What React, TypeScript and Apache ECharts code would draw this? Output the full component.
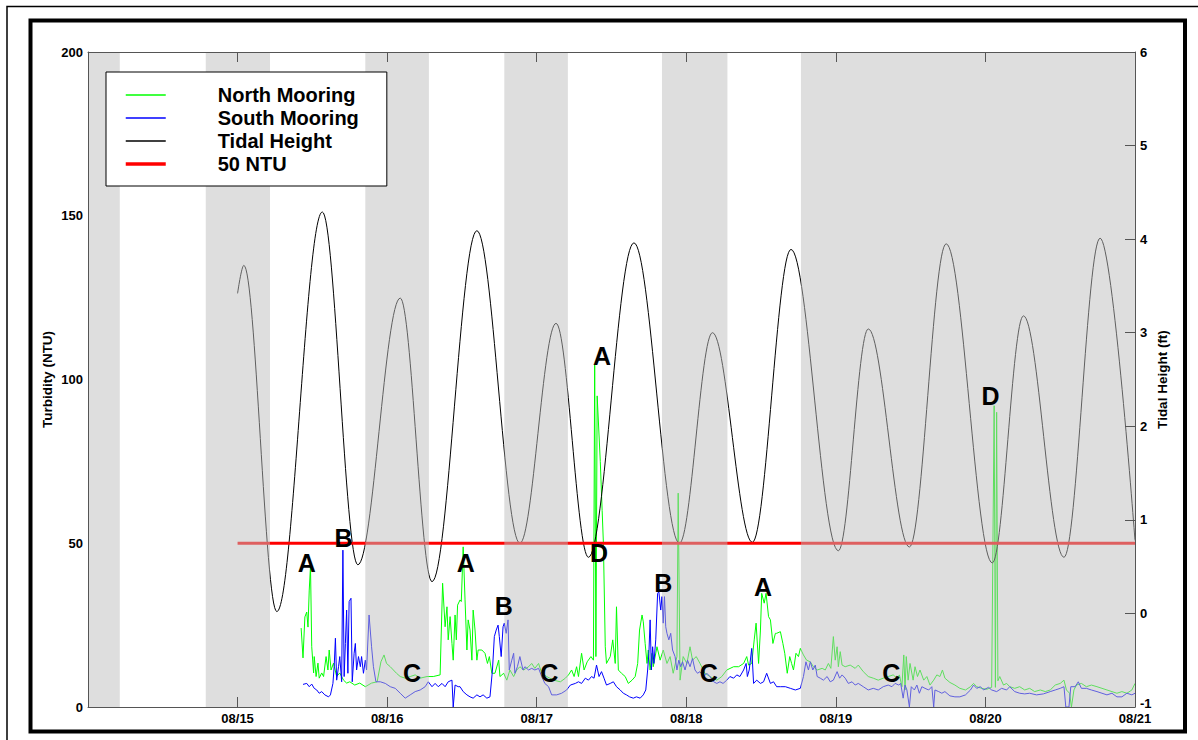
import React, { useEffect, useRef } from 'react';
import * as echarts from 'echarts';

// x values are hours after 08/14 00:00
const dayLabels = ['08/14', '08/15', '08/16', '08/17', '08/18', '08/19', '08/20', '08/21'];

// night shading [start hour, end hour]
const nightBands: [number, number][] = [
  [0, 5.1], [18.9, 29.2], [44.5, 54.7], [66.8, 77.0], [92.1, 102.6], [114.4, 168],
];

// tidal height extremes (ft)
const tideData: [number, number][] = [
  [24.0, 3.42], [25.0, 3.72], [30.3, 0.02], [37.6, 4.29], [43.3, 0.52], [50.1, 3.37],
  [55.2, 0.34], [62.4, 4.09], [69.3, 0.75], [75.1, 3.10], [80.3, 0.60], [87.6, 3.96],
  [94.9, 0.75], [100.2, 3.00], [106.6, 0.76], [112.8, 3.89], [120.4, 0.67], [125.2, 3.04],
  [131.8, 0.71], [137.7, 3.95], [145.1, 0.54], [150.1, 3.18], [156.6, 0.60], [162.4, 4.01],
  [168.0, 0.78],
];

// North mooring turbidity (NTU)
const northData: [number, number][] = [
  [34.2, 24.1], [34.5, 15.0], [34.8, 27.5], [35.1, 29.0], [35.3, 24.4], [35.5, 35.7], [35.7, 43.0], [35.9, 18.4],
  [36.2, 10.4], [36.3, 15.4], [36.6, 9.3], [36.9, 13.4], [37.1, 8.8], [37.5, 10.4], [37.8, 9.3], [38.2, 15.4],
  [38.5, 11.3], [38.7, 17.4], [39.0, 11.3], [39.4, 13.4], [39.9, 9.3], [40.4, 10.4], [41.0, 8.2], [41.5, 7.3],
  [42.0, 7.7], [42.8, 6.7], [43.6, 7.3], [44.5, 6.2], [45.5, 7.3], [46.4, 7.7], [47.0, 13.8], [47.5, 15.9],
  [47.9, 13.3], [48.5, 12.3], [49.0, 11.3], [49.5, 10.3], [50.1, 9.3], [50.9, 8.8], [51.7, 9.3], [52.5, 9.8],
  [53.3, 8.8], [54.4, 9.3], [55.4, 9.3], [56.5, 9.8], [56.9, 37.8], [57.3, 24.5], [57.6, 30.6], [57.8, 20.5],
  [58.1, 27.6], [58.4, 19.4], [58.6, 14.3], [58.9, 28.1], [59.1, 20.5], [59.3, 31.1], [59.7, 32.7], [59.9, 32.2],
  [60.2, 48.9], [60.5, 32.7], [60.8, 17.4], [61.0, 26.6], [61.3, 23.5], [61.6, 14.3], [61.8, 29.6], [62.1, 23.5],
  [62.4, 14.3], [62.6, 17.4], [63.2, 17.4], [63.7, 16.4], [64.1, 13.3], [64.4, 15.4], [64.8, 10.3], [65.3, 10.3],
  [65.9, 14.3], [66.1, 9.3], [66.7, 10.3], [67.2, 8.2], [67.7, 11.3], [68.3, 9.3], [68.8, 11.3], [69.3, 12.3],
  [69.9, 11.3], [70.7, 12.3], [71.2, 13.3], [71.7, 11.8], [72.3, 13.3], [72.8, 10.3], [73.6, 9.3], [74.7, 8.2],
  [75.8, 7.7], [76.6, 8.8], [77.1, 9.8], [77.6, 11.3], [78.0, 9.3], [78.4, 12.3], [78.7, 9.3], [79.2, 16.4],
  [79.6, 11.3], [80.1, 13.8], [80.7, 15.4], [81.1, 14.3], [81.3, 104.4], [81.5, 15.4], [81.7, 95], [82.2, 75],
  [82.5, 60], [82.7, 50], [83.0, 18.4], [83.2, 13.3], [83.8, 15.4], [84.2, 20.5], [84.6, 13.3], [84.8, 30.6],
  [85.1, 11.3], [85.6, 10.3], [86.2, 9.3], [86.7, 7.2], [87.3, 8.2], [87.8, 9.3], [88.2, 13.3], [88.5, 23.5],
  [88.9, 28.1], [89.1, 26.0], [89.4, 19.4], [89.7, 13.3], [89.9, 17.4], [90.2, 11.3], [90.5, 16.4], [90.7, 12.3],
  [91.3, 18.4], [91.8, 14.3], [92.3, 17.4], [92.9, 13.3], [93.4, 15.4], [93.9, 10.3], [94.5, 15.4], [94.7, 65.3],
  [95.0, 8.2], [95.5, 15.4], [96.1, 13.3], [96.6, 18.4], [97.0, 14.3], [97.6, 15.4], [98.2, 13.3], [99.0, 10.3],
  [99.8, 9.3], [100.9, 8.2], [101.7, 9.3], [102.5, 11.3], [103.6, 12.3], [104.4, 12.3], [105.2, 13.3], [105.7, 15.4],
  [106.0, 12.8], [106.5, 13.3], [106.9, 20.5], [107.2, 25.6], [107.6, 13.3], [107.9, 23.5], [108.1, 34.7], [108.5, 31.7],
  [108.8, 34.7], [109.2, 27.6], [109.5, 26.6], [109.9, 19.4], [110.3, 22.5], [110.5, 22.5], [111.1, 23.0], [111.5, 19.4],
  [111.8, 16.4], [112.2, 10.3], [112.6, 15.4], [112.9, 13.3], [113.2, 11.3], [113.6, 16.4], [114.0, 15.4], [114.3, 17.9],
  [114.8, 15.9], [115.3, 14.3], [115.9, 13.8], [116.4, 12.3], [117.0, 11.3], [117.8, 11.8], [118.3, 11.3], [118.8, 13.3],
  [119.2, 11.8], [119.6, 21.5], [119.9, 14.3], [120.2, 18.4], [120.4, 12.3], [120.7, 16.9], [121.0, 12.8], [121.5, 12.3],
  [122.3, 12.8], [123.1, 11.8], [123.6, 12.8], [124.4, 10.8], [125.2, 9.3], [126.0, 8.8], [126.8, 8.2], [127.6, 8.8],
  [128.4, 9.3], [129.2, 9.8], [129.8, 8.8], [130.2, 9.8], [130.6, 6.2], [130.9, 15.9], [131.1, 5.2], [131.3, 15.4],
  [131.6, 8.2], [131.9, 13.3], [132.4, 8.2], [132.7, 12.3], [133.1, 9.3], [133.5, 11.3], [134.1, 8.2], [134.6, 9.3],
  [135.1, 6.7], [135.7, 8.2], [136.2, 9.8], [136.7, 9.3], [137.1, 11.3], [137.5, 8.8], [138.3, 7.5], [139.1, 6.7],
  [139.9, 5.7], [140.8, 5.2], [141.6, 6.2], [142.1, 7.2], [142.6, 6.2], [143.4, 5.7], [144.2, 5.4], [145.0, 6.0],
  [145.4, 92], [145.6, 6], [145.8, 90], [146.0, 8], [146.3, 9.3], [146.9, 6.7], [147.4, 7.2], [147.9, 6.2],
  [148.7, 5.7], [149.5, 6.2], [150.3, 5.2], [151.1, 5.7], [151.9, 4.7], [152.8, 5.2], [153.6, 4.7], [154.4, 5.2],
  [155.2, 6.7], [156.0, 7.2], [156.6, 8.2], [157.0, 5.2], [157.5, 4.2], [157.8, 0], [158.2, 5.2], [158.6, 6.7],
  [159.4, 7.2], [160.2, 6.2], [161.0, 6.7], [161.9, 6.2], [162.7, 5.7], [163.5, 5.2], [164.3, 4.7], [165.1, 4.2],
  [165.9, 4.7], [166.7, 4.2], [167.5, 5.2], [168.0, 7.2],
];

// South mooring turbidity (NTU)
const southData: [number, number][] = [
  [34.5, 6.9], [35.1, 7.2], [35.5, 6.2], [35.9, 7.0], [36.3, 5.7], [36.7, 5.2], [37.1, 4.2], [37.5, 4.7],
  [38.0, 3.7], [38.6, 3.1], [38.9, 3.7], [39.3, 7.2], [39.5, 12.3], [39.7, 21.0], [39.9, 8.2], [40.2, 12.3],
  [40.4, 15.4], [40.7, 7.7], [40.9, 47.9], [41.1, 9.3], [41.3, 19.4], [41.5, 29.6], [41.7, 10.3], [41.9, 32.2],
  [42.2, 33.2], [42.4, 7.7], [42.7, 16.4], [42.9, 19.4], [43.1, 11.3], [43.4, 15.4], [43.7, 12.3], [43.9, 15.4],
  [44.2, 10.3], [44.5, 14.3], [44.7, 11.3], [45.1, 28.1], [45.5, 18.4], [45.8, 12.3], [46.2, 7.7], [46.9, 7.7],
  [47.7, 7.2], [48.5, 6.2], [49.3, 5.7], [50.1, 4.2], [50.9, 2.7], [51.7, 3.7], [52.5, 4.7], [53.3, 5.2],
  [54.1, 6.2], [54.6, 7.7], [55.2, 6.2], [55.7, 7.2], [56.2, 6.2], [56.8, 7.2], [57.3, 6.2], [57.8, 7.7],
  [58.4, 8.2], [58.6, 0], [58.9, 6.7], [59.4, 6.2], [59.7, 6.2], [60.2, 4.7], [60.8, 3.7], [61.3, 3.1],
  [61.8, 2.7], [62.4, 3.7], [62.9, 3.1], [63.4, 3.7], [64.0, 2.7], [64.5, 3.1], [64.9, 11.3], [65.2, 21.5],
  [65.5, 23.5], [65.8, 25.0], [66.0, 21.5], [66.3, 15.4], [66.6, 24.5], [66.8, 25.6], [67.1, 22.5], [67.4, 26.6],
  [67.6, 11.3], [68.0, 14.3], [68.3, 16.4], [68.5, 10.3], [68.9, 12.3], [69.3, 15.4], [69.8, 11.3], [70.1, 12.3],
  [70.7, 11.3], [71.2, 11.8], [71.7, 11.3], [72.3, 11.8], [72.8, 9.3], [73.3, 7.2], [73.9, 6.2], [74.4, 3.7],
  [75.2, 3.7], [76.0, 4.2], [76.8, 5.2], [77.4, 6.7], [78.2, 7.2], [78.7, 7.7], [79.2, 7.2], [79.8, 8.8],
  [80.3, 8.2], [80.8, 9.3], [81.2, 8.8], [81.6, 12.8], [82.0, 9.3], [82.4, 10.8], [82.8, 8.8], [83.2, 6.7],
  [83.8, 7.2], [84.3, 7.7], [84.8, 6.2], [85.4, 5.2], [85.9, 4.2], [86.4, 3.7], [86.9, 3.1], [87.5, 2.7],
  [88.0, 3.1], [88.6, 2.7], [89.1, 3.7], [89.5, 5.2], [89.8, 11.3], [90.0, 16.4], [90.2, 26.6], [90.4, 11.3],
  [90.6, 18.4], [90.8, 13.3], [91.1, 20.5], [91.4, 34.7], [91.6, 35.2], [91.9, 29.6], [92.1, 33.7], [92.3, 25.6],
  [92.5, 33.7], [92.7, 24.5], [92.9, 22.5], [93.2, 20.5], [93.5, 22.5], [93.8, 17.4], [94.2, 15.4], [94.5, 11.3],
  [94.8, 14.3], [95.1, 12.3], [95.4, 13.8], [95.8, 11.3], [96.2, 14.3], [96.6, 12.3], [97.0, 14.8], [97.4, 11.3],
  [97.8, 10.3], [98.2, 10.8], [98.8, 9.3], [99.3, 10.3], [99.8, 9.3], [100.4, 7.7], [100.9, 7.2], [101.4, 7.7],
  [101.9, 7.2], [102.5, 8.2], [103.0, 9.3], [103.6, 8.8], [104.1, 9.8], [104.6, 9.3], [105.2, 11.3], [105.6, 13.3],
  [105.8, 9.3], [106.1, 11.3], [106.5, 17.9], [106.8, 7.2], [107.3, 8.2], [107.9, 7.2], [108.4, 7.7], [108.9, 10.3],
  [109.5, 7.2], [110.0, 7.7], [110.5, 6.2], [111.1, 6.2], [111.9, 6.2], [112.7, 5.7], [113.5, 5.2], [114.3, 5.7],
  [114.8, 9.3], [115.2, 13.8], [115.6, 11.3], [115.9, 13.8], [116.3, 11.3], [116.7, 12.8], [117.0, 9.3], [117.5, 8.8],
  [118.0, 8.2], [118.6, 9.3], [119.1, 7.7], [119.6, 8.2], [120.2, 10.8], [120.6, 8.8], [121.0, 9.8], [121.5, 8.8],
  [122.0, 7.2], [122.6, 7.7], [123.1, 6.7], [123.6, 7.2], [124.4, 6.2], [125.2, 5.2], [126.0, 5.7], [126.8, 5.2],
  [127.6, 6.2], [128.4, 6.7], [129.0, 6.2], [129.5, 7.2], [130.1, 6.7], [130.4, 7.2], [130.8, 2.7], [131.1, 6.7],
  [131.4, 5.2], [131.8, 0], [132.1, 6.2], [132.6, 5.2], [133.0, 6.7], [133.4, 4.2], [133.8, 6.2], [134.3, 5.7],
  [134.9, 5.2], [135.4, 6.2], [135.7, 0], [135.9, 5.2], [136.5, 4.7], [137.0, 4.2], [137.5, 4.7], [138.3, 3.4],
  [139.1, 3.1], [139.9, 3.1], [140.8, 3.7], [141.6, 5.2], [142.1, 6.7], [142.6, 5.7], [143.2, 6.2], [143.7, 5.2],
  [144.5, 6.0], [145.0, 5.2], [145.8, 4.7], [146.6, 5.7], [147.4, 5.2], [147.9, 6.2], [148.7, 4.7], [149.5, 4.2],
  [150.3, 4.0], [151.1, 4.2], [152.2, 3.7], [153.3, 4.0], [154.4, 4.7], [155.2, 5.2], [156.0, 5.7], [156.6, 6.2],
  [156.9, 0], [157.4, 0], [157.7, 6.2], [158.4, 6.2], [158.9, 7.7], [159.4, 5.7], [160.2, 5.7], [161.0, 5.2],
  [161.9, 4.7], [162.7, 4.2], [163.5, 3.7], [164.3, 4.2], [165.1, 3.1], [165.9, 3.1], [166.7, 4.2], [167.5, 3.7],
  [168.0, 4.2],
];

// 50 NTU threshold line
const thresholdData: [number, number][] = [[24, 50], [168, 50]];

// event annotations
const annotLetters = ['A', 'B', 'C', 'A', 'B', 'C', 'A', 'D', 'B', 'C', 'A', 'C', 'D'];
const annotHours = [35.1, 41.0, 52.0, 60.6, 66.7, 74.0, 82.5, 82.0, 92.3, 99.6, 108.3, 128.9, 144.8];
const annotNTU = [43.9, 51.7, 10.5, 43.9, 30.9, 10.5, 107.2, 46.9, 38.0, 10.5, 36.7, 10.5, 95.0];

const FONT = '"Liberation Sans", Arial, Helvetica, sans-serif';
const AXIS_COLOR = '#555';

export default function App() {
  const ref = useRef<HTMLDivElement>(null);

  useEffect(() => {
    if (!ref.current) return;
    const chart = echarts.init(ref.current, undefined, { renderer: 'svg' });

    const labelStyle = { fontFamily: FONT, fontWeight: 'bold', fontSize: 13, color: '#000' };

    const option: any = {
      animation: false,
      backgroundColor: '#fff',
      grid: { left: 88, right: 63, top: 52, bottom: 33, containLabel: false },
      legend: {
        data: [
          { name: 'North Mooring', lineStyle: { width: 1.5 } },
          { name: 'South Mooring', lineStyle: { width: 1.5 } },
          { name: 'Tidal Height', lineStyle: { width: 1.5 } },
          { name: '50 NTU', lineStyle: { width: 3.5 } },
        ],
        orient: 'vertical',
        left: 106,
        top: 72,
        padding: [13, 28, 12, 18],
        itemGap: 3,
        itemWidth: 40,
        itemHeight: 14,
        backgroundColor: '#fff',
        borderColor: '#000',
        borderWidth: 1,
        borderRadius: 0,
        selectedMode: false,
        z: 8,
        itemStyle: { color: 'rgba(0,0,0,0)', borderWidth: 0, opacity: 0 },
        textStyle: {
          fontFamily: FONT,
          fontWeight: 'bold',
          fontSize: 20,
          lineHeight: 20,
          color: '#000',
          padding: [0, 0, 0, 47],
        },
      },
      xAxis: [
        {
          type: 'value',
          position: 'bottom',
          min: 0,
          max: 168,
          interval: 24,
          z: 10,
          axisLine: { show: true, onZero: false, lineStyle: { color: AXIS_COLOR, width: 1 } },
          axisTick: { show: true, inside: true, length: 10, lineStyle: { color: AXIS_COLOR } },
          axisLabel: {
            ...labelStyle,
            margin: 5,
            showMinLabel: false,
            showMaxLabel: true,
            formatter: (v: number) => dayLabels[Math.round(v / 24)] ?? '',
          },
          splitLine: { show: false },
        },
        {
          type: 'value',
          position: 'top',
          min: 0,
          max: 168,
          interval: 24,
          z: 10,
          axisLine: { show: true, onZero: false, lineStyle: { color: AXIS_COLOR, width: 1 } },
          axisTick: { show: true, inside: true, length: 10, lineStyle: { color: AXIS_COLOR } },
          axisLabel: { show: false },
          splitLine: { show: false },
        },
      ],
      yAxis: [
        {
          type: 'value',
          position: 'left',
          min: 0,
          max: 200,
          interval: 50,
          z: 10,
          name: 'Turbidity (NTU)',
          nameLocation: 'middle',
          nameGap: 34,
          nameMoveOverlap: false,
          nameTextStyle: { fontFamily: FONT, fontWeight: 'bold', fontSize: 13.5, color: '#000' },
          axisLine: { show: true, onZero: false, lineStyle: { color: AXIS_COLOR, width: 1 } },
          axisTick: { show: false },
          axisLabel: { ...labelStyle, margin: 5 },
          splitLine: { show: false },
        },
        {
          type: 'value',
          position: 'right',
          min: -1,
          max: 6,
          interval: 1,
          z: 10,
          name: 'Tidal Height (ft)',
          nameLocation: 'middle',
          nameGap: 20,
          nameMoveOverlap: false,
          nameTextStyle: { fontFamily: FONT, fontWeight: 'bold', fontSize: 13.5, color: '#000' },
          axisLine: { show: true, onZero: false, lineStyle: { color: AXIS_COLOR, width: 1 } },
          axisTick: { show: true, inside: true, length: 10, lineStyle: { color: AXIS_COLOR } },
          axisLabel: {
            ...labelStyle,
            margin: 5,
            formatter: (v: number) => (v === -1 ? '{lo|-1}' : String(v)),
            rich: {
              lo: { fontFamily: FONT, fontWeight: 'bold', fontSize: 13, color: '#000', padding: [0, 0, 7, 0] },
            },
          },
          splitLine: { show: false },
        },
      ],
      series: [
        {
          name: 'North Mooring',
          type: 'line',
          data: northData,
          xAxisIndex: 0,
          yAxisIndex: 0,
          symbol: 'none',
          showSymbol: false,
          lineStyle: { color: '#00ff00', width: 1 },
          itemStyle: { color: '#00ff00' },
          z: 2,
          silent: true,
        },
        {
          name: 'South Mooring',
          type: 'line',
          data: southData,
          xAxisIndex: 0,
          yAxisIndex: 0,
          symbol: 'none',
          showSymbol: false,
          lineStyle: { color: '#0000ff', width: 1 },
          itemStyle: { color: '#0000ff' },
          z: 2,
          silent: true,
        },
        {
          name: 'Tidal Height',
          type: 'line',
          data: tideData,
          xAxisIndex: 0,
          yAxisIndex: 1,
          symbol: 'none',
          showSymbol: false,
          smooth: 0.35,
          smoothMonotone: 'x',
          lineStyle: { color: '#000', width: 1 },
          itemStyle: { color: '#000' },
          z: 2,
          silent: true,
        },
        {
          name: '50 NTU',
          type: 'line',
          data: thresholdData,
          xAxisIndex: 0,
          yAxisIndex: 0,
          symbol: 'none',
          showSymbol: false,
          lineStyle: { color: '#ff0000', width: 3 },
          itemStyle: { color: '#ff0000' },
          z: 2,
          silent: true,
        },
        {
          name: 'night',
          type: 'custom',
          xAxisIndex: 0,
          yAxisIndex: 0,
          data: nightBands,
          encode: { x: [0, 1] },
          z: 3,
          silent: true,
          renderItem: (_params: any, api: any) => {
            const p0 = api.coord([api.value(0), 200]);
            const p1 = api.coord([api.value(1), 0]);
            return {
              type: 'rect',
              shape: { x: p0[0], y: p0[1], width: p1[0] - p0[0], height: p1[1] - p0[1] },
              style: { fill: 'rgba(190,190,190,0.5)' },
            };
          },
        },
        {
          name: 'events',
          type: 'scatter',
          xAxisIndex: 0,
          yAxisIndex: 0,
          symbolSize: 0,
          itemStyle: { color: '#000', opacity: 1 },
          z: 6,
          silent: true,
          data: annotLetters.map((l, i) => ({ name: l, value: [annotHours[i], annotNTU[i]] })),
          label: {
            show: true,
            position: 'inside',
            formatter: (p: any) => p.name,
            fontFamily: FONT,
            fontWeight: 'bold',
            fontSize: 25,
            color: '#000',
            opacity: 1,
            textBorderWidth: 0,
          },
        },
      ],
      graphic: [
        {
          type: 'rect',
          silent: true,
          z: 100,
          shape: { x: 7, y: 6.5, width: 1220, height: 780 },
          style: { fill: 'none', stroke: '#000', lineWidth: 1.5 },
        },
        {
          type: 'rect',
          silent: true,
          z: 100,
          shape: { x: 30.5, y: 20.5, width: 1154.5, height: 711 },
          style: { fill: 'none', stroke: '#000', lineWidth: 4 },
        },
      ],
    };

    chart.setOption(option);
    return () => chart.dispose();
  }, []);

  return (
    <div
      ref={ref}
      style={{ position: 'absolute', left: 0, top: 0, width: 1198, height: 740, background: '#fff' }}
    />
  );
}
